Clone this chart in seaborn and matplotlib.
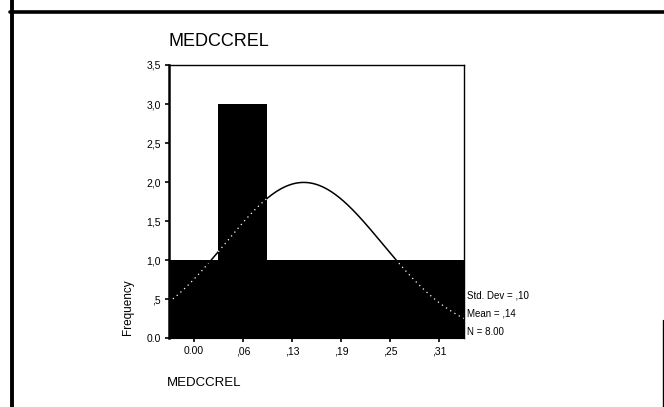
import numpy as np
import pandas as pd
import matplotlib
matplotlib.use("Agg")
import matplotlib.pyplot as plt
import seaborn as sns

# histogram bins (midpoints and counts)
bin_mids = [0.0, 0.0625, 0.125, 0.1875, 0.25, 0.3125]
counts = [1, 3, 1, 1, 1, 1]
bin_width = 0.0625
x_tick_labels = ["0.00", ",06", ",13", ",19", ",25", ",31"]
y_ticks = [0.0, 0.5, 1.0, 1.5, 2.0, 2.5, 3.0, 3.5]
y_tick_labels = ["0.0", ",5", "1,0", "1,5", "2,0", "2,5", "3,0", "3,5"]

# summary stats shown in the chart
std_dev = 0.10
mean = 0.14
n_obs = 8

sns.set_style("white", rc={"text.color": "black", "axes.labelcolor": "black",
                           "xtick.color": "black", "ytick.color": "black"})
plt.rcParams['font.family'] = ['Liberation Sans', 'DejaVu Sans']

df = pd.DataFrame({"mid": bin_mids, "count": counts})
edges = [m - bin_width / 2 for m in bin_mids] + [bin_mids[-1] + bin_width / 2]

fig = plt.figure(figsize=(6.64, 4.07), dpi=100)
ax = fig.add_axes([0.2545, 0.1695, 0.4443, 0.6708])

sns.histplot(data=df, x="mid", weights="count", binwidth=bin_width,
             binrange=(edges[0], edges[-1]), color="black",
             edgecolor="black", alpha=1, linewidth=0, ax=ax)

# normal curve scaled to the histogram
xs = np.linspace(edges[0], edges[-1], 300)
ys = n_obs * bin_width / (std_dev * np.sqrt(2 * np.pi)) * np.exp(-0.5 * ((xs - mean) / std_dev) ** 2)
sns.lineplot(x=xs, y=ys, color="black", linewidth=1.1, ax=ax)
# the part running over the black bars shows as a faint white trace
bar_h = np.array(counts)[np.clip(np.digitize(xs, edges) - 1, 0, len(counts) - 1)]
ys_in = np.where(ys < bar_h - 0.03, ys, np.nan)
ax.plot(xs, ys_in, color="white", linewidth=0.9, linestyle=(0, (1, 3)))

ax.set_xlim(edges[0], edges[-1])
ax.set_ylim(0, 3.5)
ax.set_xticks(bin_mids)
ax.set_xticklabels(x_tick_labels)
ax.set_yticks(y_ticks)
ax.set_yticklabels(y_tick_labels)
ax.tick_params(axis="both", labelsize=7.5, length=3, width=1.2, direction="out",
               left=True, bottom=True, pad=3, colors="black")
for s in ["top", "right", "left", "bottom"]:
    ax.spines[s].set_visible(True)
    ax.spines[s].set_color("black")
ax.spines["left"].set_linewidth(1.8)
ax.spines["top"].set_linewidth(1.0)
ax.spines["right"].set_linewidth(1.0)
ax.set_xlabel("")
ax.set_ylabel("")

# SPSS style labels
fig.text(169 / 664, 1 - 42 / 407, "MEDCCREL", fontsize=13, va="center", ha="left", color="black")
fig.text(167 / 664, 1 - 383 / 407, "MEDCCREL", fontsize=9.5, va="center", ha="left", color="black")
fig.text(128 / 664, 1 - 307 / 407, "Frequency", fontsize=8.5, rotation=90,
         va="center", ha="center", color="black")
fig.text(467 / 664, 1 - 295 / 407, f"Std. Dev = ,{int(round(std_dev * 100))}",
         fontsize=7, va="center", ha="left", color="black")
fig.text(467 / 664, 1 - 313 / 407, f"Mean = ,{int(round(mean * 100))}",
         fontsize=7, va="center", ha="left", color="black")
fig.text(467 / 664, 1 - 332 / 407, f"N = {n_obs:.2f}",
         fontsize=7, va="center", ha="left", color="black")

# scanned page border
fig.add_artist(plt.Line2D([10 / 664, 1], [1 - 11.5 / 407] * 2, color="black", linewidth=2.6))
fig.add_artist(plt.Line2D([12 / 664] * 2, [0, 1], color="black", linewidth=2.8))
fig.add_artist(plt.Line2D([662.5 / 664] * 2, [0, 1 - 320 / 407], color="black", linewidth=1.0))

fig.savefig("out.png", dpi=100)
